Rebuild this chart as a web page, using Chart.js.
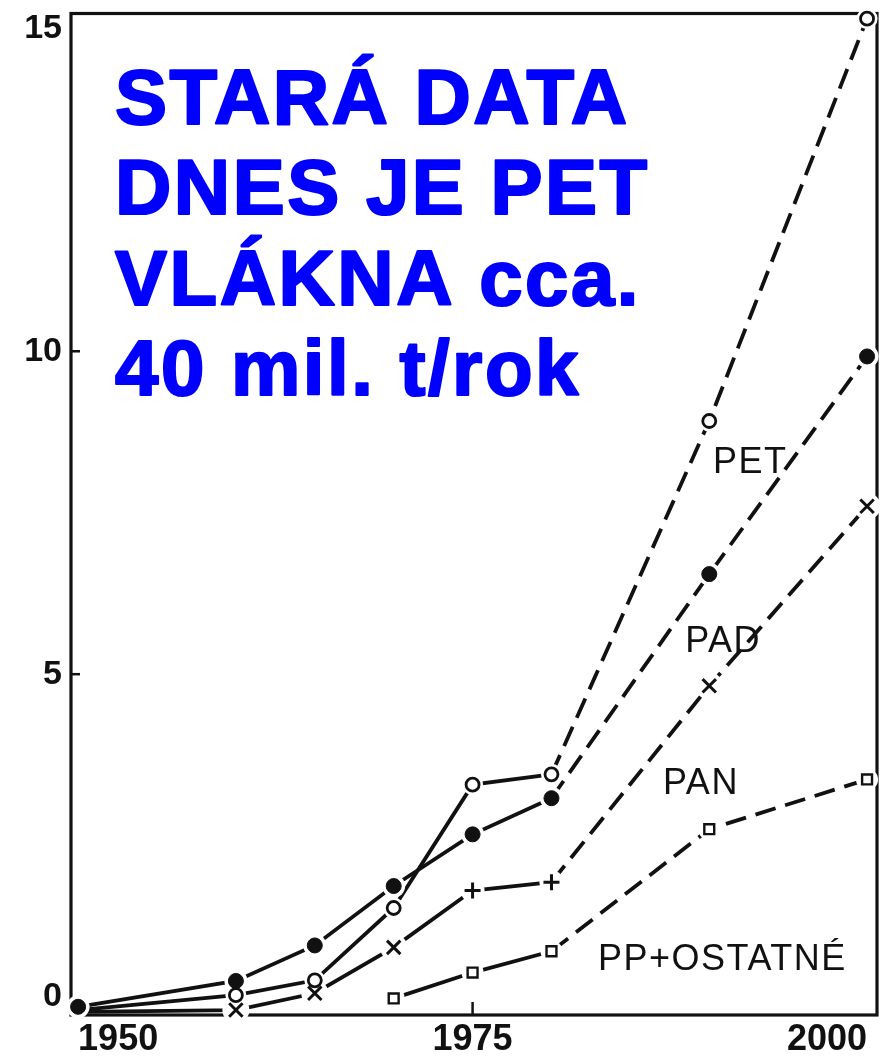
<!DOCTYPE html>
<html><head><meta charset="utf-8">
<script src="https://cdn.jsdelivr.net/npm/chart.js@4.4.0/dist/chart.umd.min.js"></script>
<style>html,body{margin:0;padding:0;background:#fff}#wrap{width:894px;height:1061px;position:relative}</style>
</head><body><div id="wrap"><canvas id="c" width="894" height="1061"></canvas></div>
<script>
// ---- data (mil. t / rok) ----
const years   = [1950, 1960, 1965, 1970, 1975, 1980, 1990, 2000];
const pet     = [-0.20, 0.03, 0.26, 1.38, 3.29, 3.45, 8.92, 15.15];
const pad     = [-0.15, 0.25, 0.80, 1.72, 2.52, 3.08, 6.55, 9.92];
const pan     = [-0.23, -0.20, 0.06, 0.77, 1.65, 1.78, 4.82, 7.60];
const ppOther = [null, null, null, -0.02, 0.38, 0.71, 2.60, 3.37];
const seriesNames = ['PET', 'PAD', 'PAN', 'PP+OSTATNÉ'];
const xTickValues = [1950, 1975, 2000];
const yTickValues = [0, 5, 10, 15];
const noteLines = ['STARÁ DATA', 'DNES JE PET', 'VLÁKNA cca.', '40 mil. t/rok'];

// label anchors (data space, left/baseline)
const labelAnchors = [
  {x: 1990.24, y: 8.11},
  {x: 1988.47, y: 5.34},
  {x: 1987.07, y: 3.14},
  {x: 1982.95, y: 0.415}
];

const INK = '#111';
const toPts = arr => years.map((yr, i) => ({x: yr, y: arr[i]}));
const dashAfter1980 = ctx => years[ctx.p0DataIndex] >= 1980 ? [21, 10] : undefined;
const isPlus = i => years[i] === 1975 || years[i] === 1980;

const seriesArrays = [pet, pad, pan, ppOther];
const markerDefs = [
  {style: () => 'circle', r: i => i === 0 ? 0 : 6.5, bg: '#fff', bw: 2.8},
  {style: () => 'circle', r: () => 7.5, bg: INK, bw: 1},
  {style: i => isPlus(i) ? 'cross' : 'crossRot', r: i => i === 0 ? 0 : (isPlus(i) ? 8 : 9.5), bg: INK, bw: 3},
  {style: () => 'rect', r: () => 7, bg: '#fff', bw: 2.4}
];

const datasets = [];
seriesArrays.forEach((arr, s) => {
  const m = markerDefs[s];
  datasets.push({
    label: seriesNames[s], data: toPts(arr), order: 3,
    borderColor: INK, borderWidth: 3.8, pointRadius: 0, fill: false,
    tension: 0, segment: {borderDash: dashAfter1980}, clip: false
  });
  datasets.push({
    label: seriesNames[s] + ' halo', data: toPts(arr), order: 2, showLine: false,
    pointStyle: 'circle',
    pointRadius: ctx => { const r = m.r(ctx.dataIndex); return r ? r + 4 : 0; },
    pointBackgroundColor: '#fff', pointBorderWidth: 0, pointBorderColor: '#fff', clip: false
  });
  datasets.push({
    label: seriesNames[s] + ' marker', data: toPts(arr), order: 1, showLine: false,
    pointStyle: ctx => m.style(ctx.dataIndex),
    pointRadius: ctx => m.r(ctx.dataIndex),
    pointBackgroundColor: m.bg, pointBorderColor: INK, pointBorderWidth: m.bw, clip: false
  });
});

const decor = {
  id: 'decor',
  beforeDatasetsDraw(chart) {
    const {ctx, chartArea: a, scales} = chart;
    ctx.save();
    ctx.strokeStyle = INK; ctx.lineWidth = 3.2;
    ctx.strokeRect(a.left, a.top, a.right - a.left, a.bottom - a.top);
    ctx.lineWidth = 2.5;
    [5, 10].forEach(v => {
      const y = scales.y.getPixelForValue(v);
      ctx.beginPath(); ctx.moveTo(a.left, y); ctx.lineTo(a.left + 9, y); ctx.stroke();
    });
    const x75 = scales.x.getPixelForValue(1975);
    ctx.beginPath(); ctx.moveTo(x75, a.bottom); ctx.lineTo(x75, a.bottom - 13); ctx.stroke();
    ctx.restore();
  },
  afterDatasetsDraw(chart) {
    const {ctx, chartArea: a, scales} = chart;
    ctx.save();
    ctx.fillStyle = INK;
    ctx.font = '36px "Liberation Sans", Arial, sans-serif';
    ctx.letterSpacing = '1.5px';
    ctx.textBaseline = 'alphabetic'; ctx.textAlign = 'left';
    seriesNames.forEach((n, i) => {
      ctx.fillText(n, scales.x.getPixelForValue(labelAnchors[i].x), scales.y.getPixelForValue(labelAnchors[i].y));
    });
    ctx.fillStyle = '#0000FF'; ctx.strokeStyle = '#0000FF'; ctx.lineWidth = 2.2; ctx.lineJoin = 'round';
    ctx.font = 'bold 78px "Liberation Sans", Arial, sans-serif';
    ctx.letterSpacing = '2.5px';
    noteLines.forEach((t, i) => {
      const x = a.left + 44, y = a.top + 110 + i * 90.5;
      ctx.fillText(t, x, y); ctx.strokeText(t, x, y);
    });
    ctx.restore();
  }
};

new Chart(document.getElementById('c'), {
  type: 'line',
  data: {datasets},
  options: {
    responsive: false, animation: false,
    layout: {padding: {top: 7, right: 17, left: 0, bottom: 0}},
    plugins: {legend: {display: false}, tooltip: {enabled: false}, title: {display: false}},
    scales: {
      x: {
        type: 'linear', min: 1949.55, max: 2000.63,
        grid: {display: false, drawTicks: false}, border: {display: false},
        afterBuildTicks: s => { s.ticks = xTickValues.map(v => ({value: v})); },
        afterFit: s => { s.height = 46; s.paddingLeft = 0; s.paddingRight = 0; },
        ticks: {align: 'inner', padding: 3, labelOffset: 0, maxRotation: 0, autoSkip: false, color: INK,
          font: {family: '"Liberation Sans", Arial, sans-serif', size: 36, weight: 'bold'},
          callback: v => String(v)}
      },
      y: {
        type: 'linear', min: -0.277, max: 15.23,
        grid: {display: false, drawTicks: false}, border: {display: false},
        afterBuildTicks: s => { s.ticks = yTickValues.map(v => ({value: v})); },
        afterFit: s => { s.width = 71; s.paddingTop = 0; s.paddingBottom = 0; },
        ticks: {padding: 9, color: INK, autoSkip: false,
          font: {family: '"Liberation Sans", Arial, sans-serif', size: 34, weight: 'bold'},
          callback: v => String(v)}
      }
    }
  },
  plugins: [decor]
});
</script>
</body></html>
